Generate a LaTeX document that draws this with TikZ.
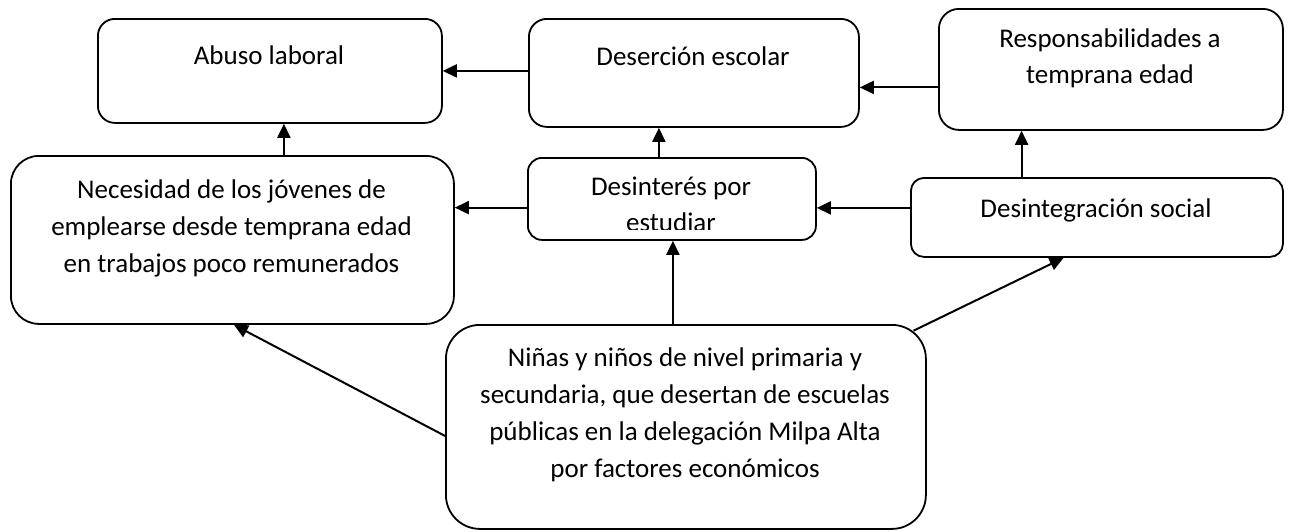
\documentclass[tikz,border=0pt]{standalone}
\usepackage{fontspec}
\setmainfont{Carlito}
\usetikzlibrary{arrows.meta}
\begin{document}
\begin{tikzpicture}[x=1pt,y=-1pt,
  box/.style={draw, line width=1.8pt, inner sep=0pt, anchor=north west},
  txt/.style={font=\fontsize{27}{36.8}\selectfont, align=center, inner sep=0pt, anchor=north},
  arr/.style={line width=2pt, -{Triangle[length=14pt,width=13pt]}}]
\useasboundingbox (0,0) rectangle (1289,531);
% boxes
\node[box, minimum width=344pt, minimum height=104pt, rounded corners=17pt] (abuso) at (97,18) {};
\node[box, minimum width=330pt, minimum height=108pt, rounded corners=18pt] (desercion) at (528,18) {};
\node[box, minimum width=344pt, minimum height=121pt, rounded corners=20pt] (resp) at (938,8) {};
\node[box, minimum width=443pt, minimum height=168pt, rounded corners=28pt] (necesidad) at (10,155) {};
\node[box, minimum width=288pt, minimum height=82pt, rounded corners=14pt] (desinteres) at (527,157) {};
\node[box, minimum width=372pt, minimum height=79pt, rounded corners=13pt] (desintegracion) at (910,177) {};
\node[box, minimum width=480pt, minimum height=204pt, rounded corners=34pt] (ninas) at (445,324) {};
% texts
\node[txt] (tabuso) at (269,38.7) {\strut Abuso laboral};
\node[txt] (tdesercion) at (693,39.2) {\strut Deserción escolar};
\node[txt] (tresp) at (1110,21.2) {\strut Responsabilidades a\\temprana edad};
\node[txt] (tnecesidad) at (231.5,172.7) {\strut Necesidad de los jóvenes de\\emplearse desde temprana edad\\en trabajos poco remunerados};
\begin{scope}
\clip (527,157) rectangle (815,229);
\node[txt] (tdesinteres) at (671,169.2) {\strut Desinterés por\\estudiar};
\end{scope}
\node[txt] (tdesintegracion) at (1096,191.2) {\strut Desintegración social};
\node[txt] (tninas) at (685,340.9) {\strut Niñas y niños de nivel primaria y\\secundaria, que desertan de escuelas\\públicas en la delegación Milpa Alta\\por factores económicos};
% arrows
\draw[arr] ([yshift=2pt]desercion.west) -- ([yshift=2pt]desercion.west -| abuso.east);
\draw[arr] ([yshift=-18pt]resp.west) -- ([yshift=-18pt]resp.west -| desercion.east);
\draw[arr] ([xshift=14pt]abuso.south |- necesidad.north) -- ([xshift=14pt]abuso.south);
\draw[arr] ([xshift=-13pt]desinteres.north) -- ([xshift=-13pt]desinteres.north |- desercion.south);
\draw[arr] ([yshift=-8.7pt]desinteres.west) -- ([yshift=-8.7pt]desinteres.west -| necesidad.east);
\draw[arr] ([yshift=9.5pt]desintegracion.west) -- ([yshift=9.5pt]desintegracion.west -| desinteres.east);
\draw[arr] ([xshift=-75.3pt]desintegracion.north) -- ([xshift=-75.3pt]desintegracion.north |- resp.south);
\draw[arr] ([xshift=-13pt]ninas.north) -- ([xshift=-13pt]ninas.north |- desinteres.south);
\draw[arr] ([shift={(-13.3pt,-6.7pt)}]ninas.north east) -- ([xshift=-33.3pt]desintegracion.south);
\draw[arr] ([yshift=-9pt]ninas.west) -- ([xshift=1.5pt]necesidad.south);
\end{tikzpicture}
\end{document}
